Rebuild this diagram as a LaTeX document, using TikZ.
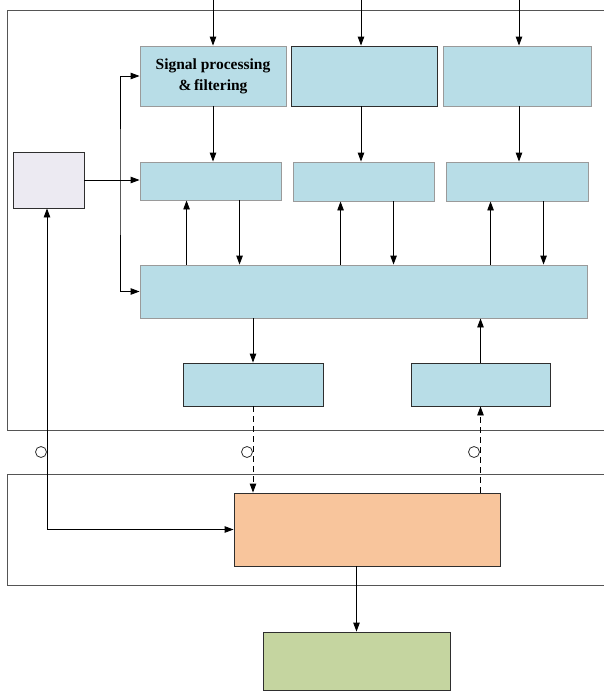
\documentclass[tikz,border=0pt]{standalone}
\usepackage{fontspec}
\setmainfont{Liberation Serif}
\usetikzlibrary{arrows.meta,calc,positioning}
\definecolor{BlockBlue}{HTML}{B8DDE7}
\definecolor{BlockEdge}{HTML}{9A9A9A}
\definecolor{BlockDark}{HTML}{2E2E2E}
\definecolor{HostLilac}{HTML}{ECEAF2}
\definecolor{CorePeach}{HTML}{F8C59C}
\definecolor{SinkSage}{HTML}{C5D5A0}
\definecolor{FrameGrey}{HTML}{555555}
\tikzset{
  every node/.style={font=\fontsize{15.5}{21}\selectfont\bfseries, text=black},
  block/.style={draw=BlockEdge, line width=0.9pt, fill=BlockBlue, inner sep=0pt},
  darkblock/.style={block, draw=BlockDark},
  host/.style={draw=BlockDark, line width=0.9pt, fill=HostLilac, inner sep=0pt},
  core/.style={draw=BlockDark, line width=0.9pt, fill=CorePeach, inner sep=0pt},
  sink/.style={draw=BlockDark, line width=0.9pt, fill=SinkSage, inner sep=0pt},
  frame/.style={draw=FrameGrey, line width=0.9pt},
  ring/.style={circle, draw=BlockDark, line width=0.8pt, minimum size=11pt, inner sep=0pt},
  flow/.style={-{Triangle[length=9pt,width=6.5pt]}, draw=black, line width=0.9pt},
  twoway/.style={{Triangle[length=9pt,width=6.5pt]}-{Triangle[length=9pt,width=6.5pt]}, draw=black, line width=0.9pt},
  link/.style={flow, dash pattern=on 6pt off 4pt},
}
\begin{document}
\begin{tikzpicture}[x=1pt,y=-1pt]
  \useasboundingbox (0,0) rectangle (604,694);

  % Outer frames (open on the right)
  \draw[frame] (604,10) -- (7,10) -- (7,430) -- (604,430);
  \draw[frame] (604,474) -- (7,474) -- (7,585) -- (604,585);

  % Top row of stages
  \node[block, minimum width=146pt, minimum height=60pt, align=center] (filt) at (213,76) {Signal processing\\\&\,filtering};
  \node[darkblock, minimum width=146pt, minimum height=60pt] (stageB) at (364,76) {};
  \node[block, minimum width=148pt, minimum height=60pt] (stageC) at (517,76) {};

  % Middle row
  \node[block, minimum width=141pt, minimum height=38pt] (midA) at (210.5,181) {};
  \node[block, minimum width=141pt, minimum height=39pt] (midB) at (363.5,181.5) {};
  \node[block, minimum width=142pt, minimum height=39pt] (midC) at (517,181.5) {};

  % Shared bus block
  \node[block, minimum width=447pt, minimum height=53pt] (bus) at (363.5,291.5) {};

  % Interface blocks
  \node[darkblock, minimum width=140pt, minimum height=43pt] (txif) at (253,384.5) {};
  \node[darkblock, minimum width=139pt, minimum height=43pt] (rxif) at (480.5,384.5) {};

  % Controller, core, output
  \node[host, minimum width=71pt, minimum height=56pt] (ctrl) at (48.5,180) {};
  \node[core, minimum width=266pt, minimum height=73pt] (core) at (367,529.5) {};
  \node[sink, minimum width=187pt, minimum height=58pt] (out) at (356.5,661) {};

  % Inputs from above
  \coordinate (inA) at (213,0);
  \coordinate (inB) at (361,0);
  \coordinate (inC) at (519,0);
  \draw[flow] (inA) -- (inA |- filt.north);
  \draw[flow] (inB) -- (inB |- stageB.north);
  \draw[flow] (inC) -- (inC |- stageC.north);

  % Top row to middle row
  \draw[flow] (filt.south -| inA) -- (midA.north -| inA);
  \draw[flow] (stageB.south -| inB) -- (midB.north -| inB);
  \draw[flow] (stageC.south -| inC) -- (midC.north -| inC);

  % Middle row <-> bus
  \path ($(midA.south west)+(47,0)$) coordinate (upA) ($(midA.south west)+(100,0)$) coordinate (dnA);
  \path ($(midB.south west)+(48,0)$) coordinate (upB) ($(midB.south west)+(101,0)$) coordinate (dnB);
  \path ($(midC.south west)+(45,0)$) coordinate (upC) ($(midC.south west)+(98,0)$) coordinate (dnC);
  \draw[flow] (upA |- bus.north) -- (upA);
  \draw[flow] (dnA) -- (dnA |- bus.north);
  \draw[flow] (upB |- bus.north) -- (upB);
  \draw[flow] (dnB) -- (dnB |- bus.north);
  \draw[flow] (upC |- bus.north) -- (upC);
  \draw[flow] (dnC) -- (dnC |- bus.north);

  % Controller fan-out
  \coordinate (split) at (120,180);
  \draw[flow] (ctrl.east) -- (ctrl.east -| midA.west);
  \draw[twoway] (filt.west) -| (split) |- (bus.west);

  % Bus <-> interfaces
  \draw[flow] (bus.south -| txif.north) -- (txif.north);
  \draw[flow] (rxif.north) -- (rxif.north |- bus.south);

  % Links to the core
  \draw[link] (txif.south) -- (txif.south |- core.north);
  \draw[link] (rxif.south |- core.north) -- (rxif.south);
  \coordinate (back) at (47,0);
  \draw[twoway] (ctrl.south -| back) |- (core.west);
  \draw[flow] (core.south -| out.north) -- (out.north);

  % Couplers
  \node[ring] (ringL) at (41,452) {};
  \node[ring] (ringM) at (247,452) {};
  \node[ring] (ringR) at (474,452) {};
\end{tikzpicture}
\end{document}
